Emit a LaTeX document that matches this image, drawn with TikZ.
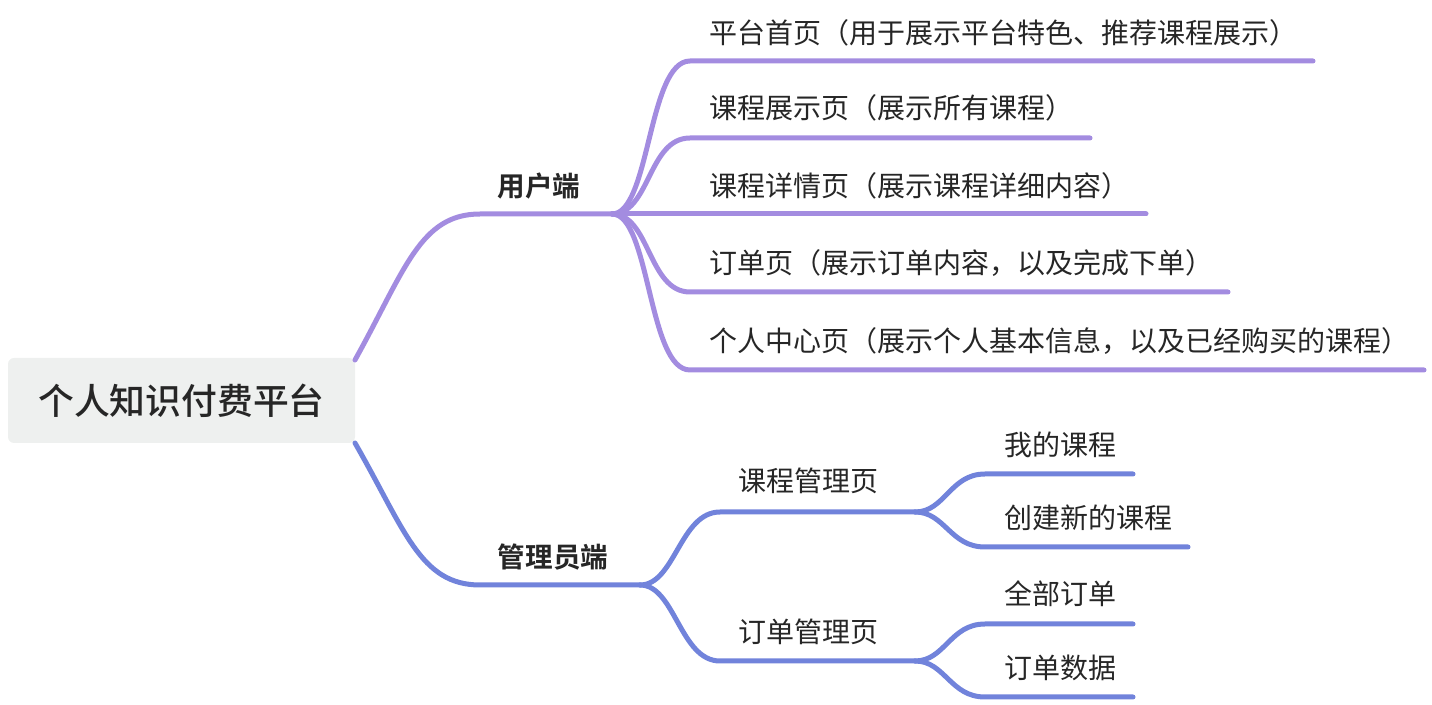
\documentclass[tikz,border=0pt]{standalone}
\usepackage{fontspec}
\setmainfont{Noto Sans CJK SC}[BoldFont={Noto Sans CJK SC Bold}]
\newfontfamily\rootfont{Noto Sans CJK SC Medium}
\usepackage{tikz}
\usetikzlibrary{positioning}
\usepackage{xcolor}
\definecolor{userpurple}{HTML}{A38CE0}
\definecolor{adminblue}{HTML}{7183DB}
\definecolor{rootgray}{HTML}{EEF0EF}
\definecolor{textdark}{HTML}{262626}

\begin{document}
\begin{tikzpicture}[x=0.5pt,y=-0.5pt]
  \tikzset{rootnode/.style={rectangle,rounded corners=3pt,fill=rootgray,minimum width=173.5pt,minimum height=42.5pt,inner sep=0pt,text=textdark,font=\rootfont\fontsize{17.9}{20}\selectfont}}
  \tikzset{sidelabel/.style={inner sep=0pt,text=textdark,font=\bfseries\fontsize{13.8}{16}\selectfont}}
  \tikzset{pagelabel/.style={inner sep=0pt,text=textdark,font=\fontsize{14}{16}\selectfont}}
  \tikzset{userbranch/.style={draw=userpurple,line width=2.5pt,line cap=round}}
  \tikzset{adminbranch/.style={draw=adminblue,line width=2.5pt,line cap=round}}
  \useasboundingbox (0,0) rectangle (1432,705);
  \node[rootnode] (root) at (181.5,400.5) {个人知识付费平台};
  \coordinate (ustart) at (355,360);
  \coordinate (uhub) at (612,214);
  \coordinate (astart) at (355,443);
  \coordinate (ahub) at (640,585);
  \node[sidelabel] (user) at (539,186) {用户端};
  \node[sidelabel] (admin) at (553,557) {管理员端};
  \draw[userbranch] (ustart) .. controls (405,270) and (420,214) .. (480,214) -- (uhub);
  \draw[adminbranch] (astart) .. controls (405,530) and (420,585) .. (480,585) -- (ahub);
  \node[pagelabel,anchor=west] (home) at (709,33) {平台首页（用于展示平台特色、推荐课程展示）};
  \node[pagelabel,anchor=west] (courselist) at (709,108) {课程展示页（展示所有课程）};
  \node[pagelabel,anchor=west] (coursedetail) at (709,186) {课程详情页（展示课程详细内容）};
  \node[pagelabel,anchor=west] (order) at (709,263) {订单页（展示订单内容，以及完成下单）};
  \node[pagelabel,anchor=west] (profile) at (709,341) {个人中心页（展示个人基本信息，以及已经购买的课程）};
  \coordinate (homeend) at (1313,61);
  \coordinate (courselistend) at (1090,138);
  \coordinate (coursedetailend) at (1146,214);
  \coordinate (orderend) at (1228,292);
  \coordinate (profileend) at (1424,370);
  \draw[userbranch] (uhub) .. controls (650,214) and (648,61) .. (690,61) -- (homeend);
  \draw[userbranch] (uhub) .. controls (650,214) and (648,138) .. (690,138) -- (courselistend);
  \draw[userbranch] (uhub) -- (coursedetailend);
  \draw[userbranch] (uhub) .. controls (650,214) and (648,292) .. (690,292) -- (orderend);
  \draw[userbranch] (uhub) .. controls (650,214) and (648,370) .. (690,370) -- (profileend);
  \node[pagelabel] (coursemgr) at (808,481) {课程管理页};
  \node[pagelabel] (ordermgr) at (808,632) {订单管理页};
  \coordinate (coursehub) at (915,512);
  \coordinate (orderhub) at (915,661);
  \draw[adminbranch] (ahub) .. controls (675,585) and (680,512) .. (720,512) -- (coursehub);
  \draw[adminbranch] (ahub) .. controls (675,585) and (680,661) .. (720,661) -- (orderhub);
  \node[pagelabel,anchor=west] (mycourse) at (1004,445) {我的课程};
  \node[pagelabel,anchor=west] (newcourse) at (1004,518) {创建新的课程};
  \node[pagelabel,anchor=west] (allorders) at (1004,594) {全部订单};
  \node[pagelabel,anchor=west] (orderdata) at (1004,668) {订单数据};
  \coordinate (mycourseend) at (1133,474);
  \coordinate (newcourseend) at (1188,547);
  \coordinate (allordersend) at (1133,624);
  \coordinate (orderdataend) at (1133,697);
  \draw[adminbranch] (coursehub) .. controls (945,512) and (950,474) .. (985,474) -- (mycourseend);
  \draw[adminbranch] (coursehub) .. controls (945,512) and (950,547) .. (985,547) -- (newcourseend);
  \draw[adminbranch] (orderhub) .. controls (945,661) and (950,624) .. (985,624) -- (allordersend);
  \draw[adminbranch] (orderhub) .. controls (945,661) and (950,697) .. (985,697) -- (orderdataend);
\end{tikzpicture}
\end{document}
